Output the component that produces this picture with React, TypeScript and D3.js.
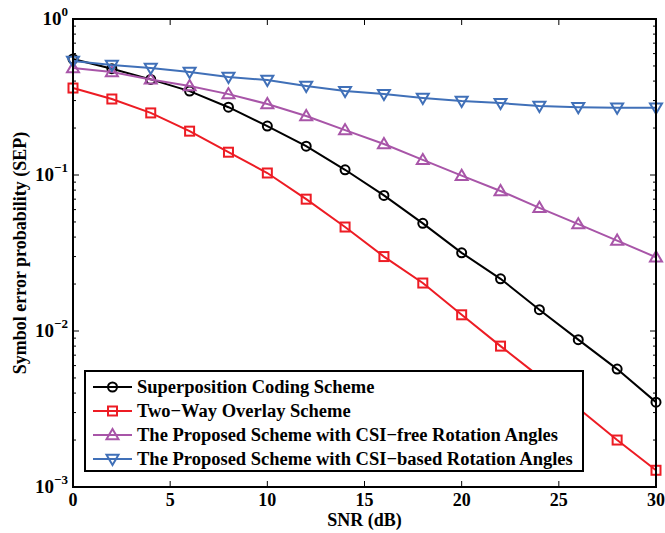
import React, { useEffect, useRef } from "react";
import * as d3 from "d3";

const W = 665;
const H = 533;
const margin = { top: 19, right: 9, bottom: 46, left: 73 };

const snr = [0, 2, 4, 6, 8, 10, 12, 14, 16, 18, 20, 22, 24, 26, 28, 30];
const superposition = [0.554, 0.48, 0.41, 0.345, 0.272, 0.206, 0.153, 0.108, 0.074, 0.049, 0.0317, 0.0216, 0.0137, 0.0088, 0.0057, 0.0035];
const twoWay = [0.361, 0.307, 0.25, 0.191, 0.14, 0.103, 0.07, 0.0464, 0.03, 0.0203, 0.0127, 0.008, 0.0051, 0.0032, 0.002, 0.00128];
const csiFree = [0.485, 0.457, 0.41, 0.372, 0.33, 0.285, 0.239, 0.194, 0.158, 0.125, 0.099, 0.079, 0.0616, 0.0484, 0.038, 0.0297];
const csiBased = [0.538, 0.507, 0.485, 0.457, 0.425, 0.406, 0.372, 0.345, 0.33, 0.312, 0.298, 0.289, 0.277, 0.272, 0.27, 0.27];

const seriesNames = [
  "Superposition Coding Scheme",
  "Two\u2212Way Overlay Scheme",
  "The Proposed Scheme with CSI\u2212free Rotation Angles",
  "The Proposed Scheme with CSI\u2212based Rotation Angles",
];
const seriesColors = ["#000000", "#ed1c24", "#a855a8", "#4070b8"];
const seriesMarkers = ["circle", "square", "up", "down"];
const seriesValues = [superposition, twoWay, csiFree, csiBased];

const xTicks = [0, 5, 10, 15, 20, 25, 30];
const yDecades = [0, -1, -2, -3];

const font = "'Liberation Serif', 'Times New Roman', serif";

function drawMarker(g: any, type: string, x: number, y: number, color: string) {
  if (type === "circle") {
    g.append("circle").attr("cx", x).attr("cy", y).attr("r", 4.5)
      .attr("fill", "none").attr("stroke", color).attr("stroke-width", 2);
  } else if (type === "square") {
    g.append("rect").attr("x", x - 4.5).attr("y", y - 4.5).attr("width", 9).attr("height", 9)
      .attr("fill", "none").attr("stroke", color).attr("stroke-width", 2);
  } else {
    const s = 6;
    const pts = type === "up"
      ? [[x, y - s], [x - s, y + s * 0.7], [x + s, y + s * 0.7]]
      : [[x, y + s], [x - s, y - s * 0.7], [x + s, y - s * 0.7]];
    g.append("path").attr("d", "M" + pts.map((p) => p.join(",")).join("L") + "Z")
      .attr("fill", "none").attr("stroke", color).attr("stroke-width", 2);
  }
}

export default function App() {
  const ref = useRef<SVGSVGElement>(null);

  useEffect(() => {
    const svg = d3.select(ref.current);
    svg.selectAll("*").remove();

    const x = d3.scaleLinear().domain([0, 30]).range([margin.left, W - margin.right]);
    const y = d3.scaleLog().domain([1e-3, 1]).range([H - margin.bottom, margin.top]);
    const [x0, x1] = x.range();
    const [yb, yt] = y.range();

    svg.append("rect").attr("width", W).attr("height", H).attr("fill", "#fff");

    // ticks (inward, all sides)
    const tg = svg.append("g").attr("stroke", "#000").attr("stroke-width", 1);
    xTicks.forEach((t) => {
      tg.append("line").attr("x1", x(t)).attr("x2", x(t)).attr("y1", yb).attr("y2", yb - 6);
      tg.append("line").attr("x1", x(t)).attr("x2", x(t)).attr("y1", yt).attr("y2", yt + 6);
    });
    for (let d = -3; d < 0; d++) {
      for (let m = 1; m < 10; m++) {
        const v = m * Math.pow(10, d);
        const len = m === 1 ? 6 : 3;
        tg.append("line").attr("x1", x0).attr("x2", x0 + len).attr("y1", y(v)).attr("y2", y(v));
        tg.append("line").attr("x1", x1).attr("x2", x1 - len).attr("y1", y(v)).attr("y2", y(v));
      }
    }

    // series
    const line = d3.line<[number, number]>().x((d) => x(d[0])).y((d) => y(d[1]));
    seriesValues.forEach((vals, i) => {
      const data = snr.map((s, j) => [s, vals[j]] as [number, number]);
      const g = svg.append("g");
      g.append("path").attr("d", line(data)).attr("fill", "none")
        .attr("stroke", seriesColors[i]).attr("stroke-width", 2);
      data.forEach((d) => drawMarker(g, seriesMarkers[i], x(d[0]), y(d[1]), seriesColors[i]));
    });

    // axes box
    svg.append("rect").attr("x", x0).attr("y", yt).attr("width", x1 - x0).attr("height", yb - yt)
      .attr("fill", "none").attr("stroke", "#000").attr("stroke-width", 2);

    // x tick labels
    xTicks.forEach((t) => {
      svg.append("text").attr("x", x(t)).attr("y", yb + 19).attr("text-anchor", "middle")
        .attr("font-family", font).attr("font-weight", "bold").attr("font-size", 18).text(t);
    });

    // y tick labels
    yDecades.forEach((e) => {
      const t = svg.append("text").attr("x", x0 - 5).attr("y", y(Math.pow(10, e)) + 6)
        .attr("text-anchor", "end").attr("font-family", font).attr("font-weight", "bold").attr("font-size", 19);
      t.append("tspan").text("10");
      t.append("tspan").attr("dy", -9).attr("font-size", 13).text(e === 0 ? "0" : "\u2212" + Math.abs(e));
    });

    // axis labels
    svg.append("text").attr("x", (x0 + x1) / 2).attr("y", yb + 39).attr("text-anchor", "middle")
      .attr("font-family", font).attr("font-weight", "bold").attr("font-size", 18).text("SNR (dB)");
    svg.append("text").attr("transform", `translate(26,${(yt + yb) / 2}) rotate(-90)`)
      .attr("text-anchor", "middle").attr("font-family", font).attr("font-weight", "bold")
      .attr("font-size", 18).text("Symbol error probability (SEP)");

    // legend
    const lg = svg.append("g");
    const lx = 85, ly = 371, lw = 498, lh = 100;
    lg.append("rect").attr("x", lx).attr("y", ly).attr("width", lw).attr("height", lh)
      .attr("fill", "#fff").attr("stroke", "#000").attr("stroke-width", 2);
    seriesNames.forEach((name, i) => {
      const cy = ly + 16 + i * 24;
      lg.append("line").attr("x1", lx + 8).attr("x2", lx + 47).attr("y1", cy).attr("y2", cy)
        .attr("stroke", seriesColors[i]).attr("stroke-width", 2);
      drawMarker(lg, seriesMarkers[i], lx + 27.5, cy, seriesColors[i]);
      lg.append("text").attr("x", lx + 52).attr("y", cy + 6).attr("font-family", font)
        .attr("font-weight", "bold").attr("font-size", 18.5).text(name);
    });
  }, []);

  return <svg ref={ref} width={W} height={H} style={{ display: "block", position: "absolute", left: 0, top: 0 }} />;
}
